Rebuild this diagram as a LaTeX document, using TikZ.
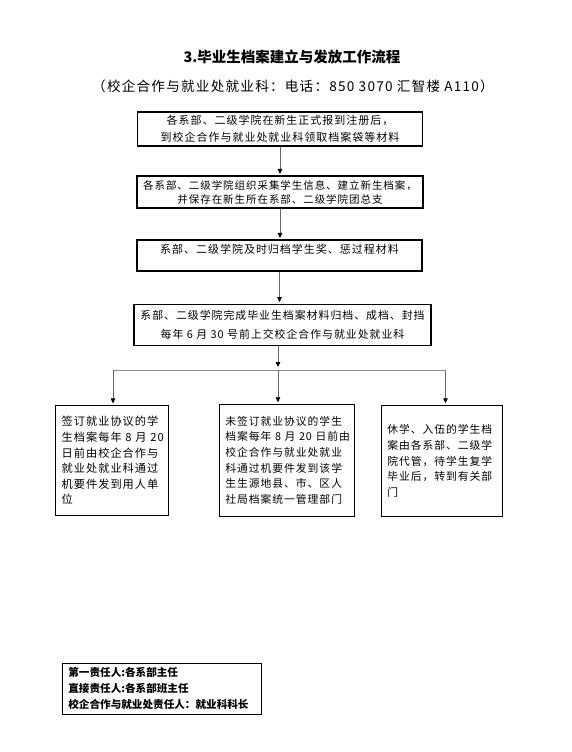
\documentclass[tikz,border=0pt]{standalone}
\usepackage{fontspec}
\setmainfont{Noto Sans CJK SC}
\newfontfamily\boxfont[LetterSpace=9]{Noto Sans CJK SC}
\usetikzlibrary{arrows.meta}
\begin{document}
\begin{tikzpicture}[x=1pt, y=-1pt,
    stepbox/.style={draw, line width=1.1pt, inner sep=0pt, align=center},
    endbox/.style={draw, line width=1.1pt, inner xsep=6pt, inner ysep=0pt, align=left,
      font=\boxfont\fontsize{10.8}{15.7}\selectfont},
    link/.style={draw=black!60, line width=0.8pt, shorten >=1.5pt,
      -{Triangle[length=5pt, width=4.5pt, color=black]}}]
  \useasboundingbox (0,0) rectangle (571,752);
  \node[font=\bfseries\fontsize{14.5}{18}\selectfont] (title) at (292,57) {3.毕业生档案建立与发放工作流程};
  \node[font=\boxfont\fontsize{13.6}{16}\selectfont] (contact) at (293,86)
    {（校企合作与就业处就业科：电话：850 3070 汇智楼 A110）};
  \node[stepbox, minimum width=285pt, minimum height=34pt, font=\boxfont\fontsize{11}{16.7}\selectfont]
    (collect) at (280,129) {各系部、二级学院在新生正式报到注册后，\\到校企合作与就业处就业科领取档案袋等材料};
  \node[stepbox, minimum width=286pt, minimum height=32pt, font=\boxfont\fontsize{10.5}{14}\selectfont]
    (archive) at (280,192) {各系部、二级学院组织采集学生信息、建立新生档案，\\并保存在新生所在系部、二级学院团总支};
  \node[draw, line width=1.1pt, inner sep=0pt, minimum width=285pt, minimum height=31pt,
    text height=9pt, text depth=14pt, font=\boxfont\fontsize{11}{16}\selectfont]
    (reward) at (279.5,255.5) {系部、二级学院及时归档学生奖、惩过程材料};
  \node[stepbox, minimum width=297pt, minimum height=41pt, font=\boxfont\fontsize{10.9}{19}\selectfont]
    (submit) at (282.5,324.7) {系部、二级学院完成毕业生档案材料归档、成档、封挡\\每年~6~月~30~号前上交校企合作与就业处就业科};
  \node[endbox, text width=100.6pt, minimum height=110pt, font=\boxfont\fontsize{11.2}{15.6}\selectfont]
    (signed) at (112,460.5) {签订就业协议的学\\生档案每年~8~月~20\\日前由校企合作与\\就业处就业科通过\\机要件发到用人单\\位};
  \node[endbox, text width=123pt, minimum height=111.7pt] (unsigned) at (286.8,460.2)
    {未签订就业协议的学生\\档案每年~8~月~20~日前由\\校企合作与就业处就业\\科通过机要件发到该学\\生生源地县、市、区人\\社局档案统一管理部门};
  \node[endbox, text width=109pt, minimum height=111.4pt] (deferred) at (441.8,461)
    {休学、入伍的学生档\\案由各系部、二级学\\院代管，待学生复学\\毕业后，转到有关部\\门};
  \node[endbox, text width=186.7pt, minimum height=50.7pt, font=\bfseries\fontsize{10.6}{16}\selectfont]
    (duty) at (161.7,688.7) {第一责任人:各系部主任\\直接责任人:各系部班主任\\校企合作与就业处责任人：就业科科长};
  \coordinate (split) at (278,370);
  \coordinate (splitL) at (113,370);
  \coordinate (splitR) at (445.5,370);
  \draw[link] (collect.south) -- (collect.south |- archive.north);
  \draw[link] (archive.south) -- (archive.south |- reward.north);
  \draw[link] (reward.south) -- (reward.south |- submit.north);
  \draw[link, shorten >=3pt] (submit.south -| split) -- (split);
  \draw[draw=black!45, line width=1pt] (splitL) -- (splitR);
  \draw[link] (splitL) -- (splitL |- signed.north);
  \draw[link] (split) -- (split |- unsigned.north);
  \draw[link] (splitR) -- (splitR |- deferred.north);
\end{tikzpicture}
\end{document}
